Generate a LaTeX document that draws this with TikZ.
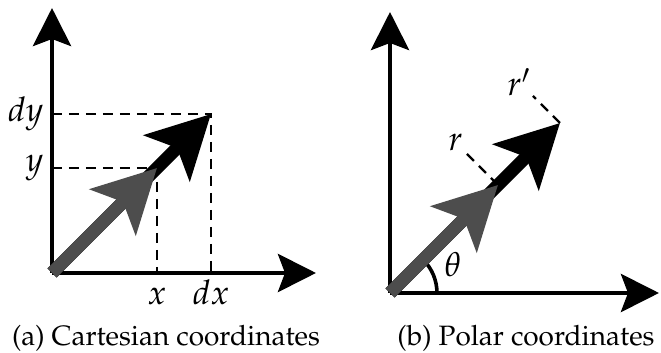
\documentclass[tikz,border=0pt]{standalone}
\usepackage[T1]{fontenc}
\usepackage{mathpazo}
\usetikzlibrary{arrows.meta, positioning, calc}
\definecolor{vecgray}{HTML}{4D4D4D}

\begin{document}
\begin{tikzpicture}[
    x=0.5pt, y=0.5pt,
    axis/.style={-{Stealth[length=19pt, width=19pt, inset=3.5pt]}, line width=2.3pt},
    vec/.style={-{Stealth[length=31pt, width=32pt, inset=7pt]}, line width=6.5pt},
    guide/.style={line width=1.1pt, dash pattern=on 5pt off 3.5pt},
    angarc/.style={line width=1.8pt},
    lab/.style={font=\fontsize{17}{20}\selectfont, inner sep=2pt},
    capt/.style={font=\fontsize{14}{17}\selectfont, anchor=base}
]
\useasboundingbox (0,0) rectangle (661,353);

% (a) Cartesian
\coordinate (o1) at (52,80);
\coordinate (ya) at (52,345);
\coordinate (xa) at (316,80);
\coordinate (b1) at (211,239);
\coordinate (g1) at (157,185);

\draw[axis] (o1) -- (ya);
\draw[axis] (o1) -- (xa);

\draw[guide] (o1 |- b1) -- (b1) -- (b1 |- o1);
\draw[guide] (o1 |- g1) -- (g1) -- (g1 |- o1);

\draw[vec, black] (o1) -- (b1);
\draw[vec, vecgray] (o1) -- (g1);

\node[lab, left=2pt] (dy) at (o1 |- b1) {$dy$};
\node[lab, left=2pt] (y) at (o1 |- g1) {$y$};
\node[lab, anchor=base] (x) at ($(g1 |- o1)+(0,-32)$) {$x$};
\node[lab, anchor=base] (dx) at ($(b1 |- o1)+(0,-32)$) {$dx$};

% (b) Polar
\coordinate (o2) at (390,60);
\coordinate (yb) at (390,341);
\coordinate (xb) at (659,60);
\coordinate (b2) at (560,230);
\coordinate (g2) at (498,168);

\draw[axis] (o2) -- (yb);
\draw[axis] (o2) -- (xb);
\draw[angarc] ([shift={(0:47)}]o2) arc[start angle=0, end angle=45, radius=47];

\node[lab, inner sep=1pt] (r) at ($(g2)+(135:60)$) {$r$};
\node[lab, inner sep=1pt] (rp) at ($(b2)+(135:58)$) {$r'$};
\draw[guide] (g2) -- (r);
\draw[guide] (b2) -- (rp);

\draw[vec, black] (o2) -- (b2);
\draw[vec, vecgray] (o2) -- (g2);

\node[lab] (th) at (453,88) {$\theta$};

% captions
\node[capt] (capa) at (166,7) {(a) Cartesian coordinates};
\node[capt] (capb) at (526,7) {(b) Polar coordinates};

\end{tikzpicture}
\end{document}
